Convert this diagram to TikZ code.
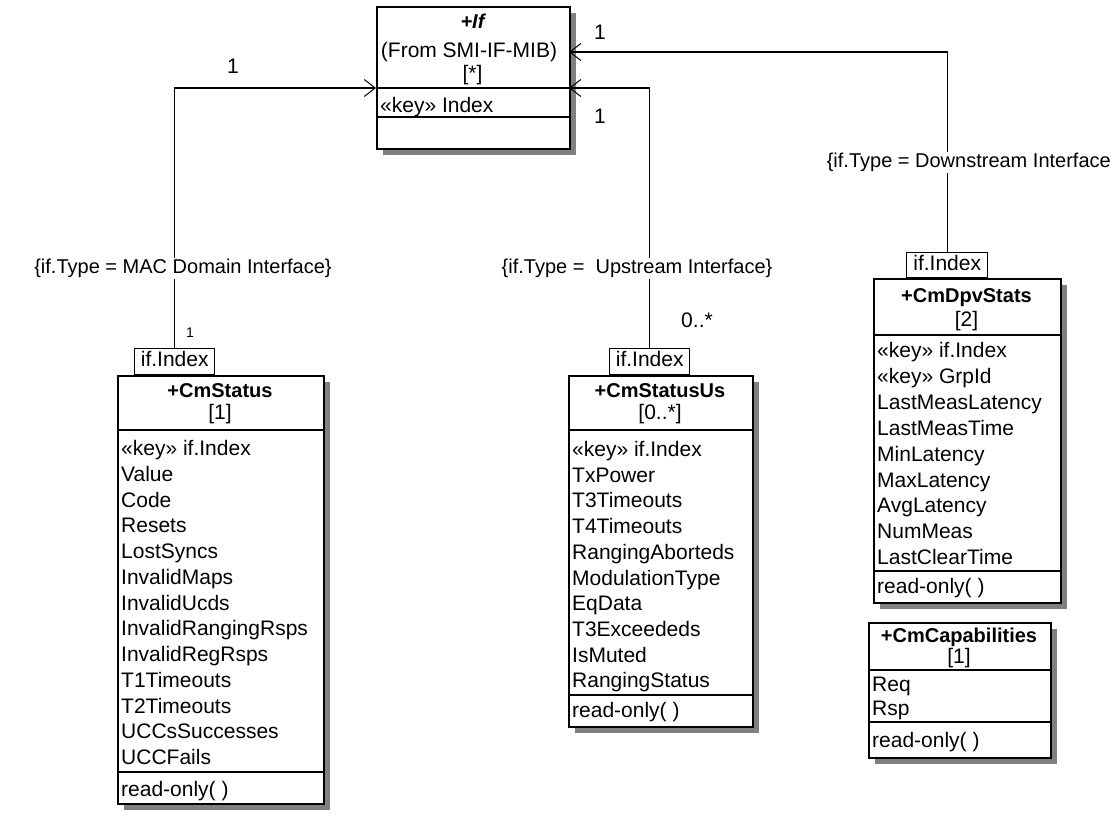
\documentclass[tikz,border=0pt]{standalone}
\usepackage{fontspec}
\setmainfont{Liberation Sans}
\usetikzlibrary{arrows.meta,shadows}

\tikzset{
  px/.style={x=1pt,y=-1pt},
  boxfont/.style={font=\fontsize{21}{24}\selectfont,text height=15pt,text depth=4pt},
  classbox/.style={draw,line width=1.6pt,fill=white,inner sep=0pt,anchor=north west,
    drop shadow={shadow xshift=6pt,shadow yshift=-6pt,fill=black!50,opacity=1}},
  qualbox/.style={draw,line width=1.4pt,fill=white,inner sep=0pt,anchor=south west,
    boxfont,align=center},
  attr/.style={anchor=west,inner sep=0pt,boxfont},
  title/.style={anchor=center,inner sep=0pt,font=\fontsize{20}{24}\selectfont\bfseries,text height=15pt,text depth=4pt},
  mult/.style={anchor=center,inner sep=0pt,boxfont},
  constraint/.style={inner sep=1pt,fill=white,font=\fontsize{20}{24}\selectfont,text height=15pt,text depth=4pt},
  assoc/.style={line width=1.3pt,-{Straight Barb[length=11pt,width=17pt,line width=1pt]}},
  divider/.style={line width=1.3pt},
}

\begin{document}
\begin{tikzpicture}[px]
\fill[white] (0,0) rectangle (1119,816);
\useasboundingbox (0,0) rectangle (1119,816);

% ---------- +If (From SMI-IF-MIB) ----------
\node[classbox,minimum width=193pt,minimum height=142pt] (ifbox) at (376,6) {};
\node[title,font=\fontsize{20}{24}\selectfont\bfseries\itshape] (ifname) at (472.5,23) {+If};
\node[mult] (iffrom) at (469,52) {(From SMI-IF-MIB)};
\node[mult] (ifmult) at (472.5,75) {[*]};
\draw[divider] (ifbox.west |- 0,88) -- (ifbox.east |- 0,88);
\node[attr] (ifkey) at (380,107) {«key» Index};
\draw[divider] (ifbox.west |- 0,117) -- (ifbox.east |- 0,117);
\coordinate (ifL) at (376,88);
\coordinate (ifRmid) at (569,88);
\coordinate (ifRtop) at (569,52);

% ---------- +CmStatus ----------
\node[classbox,minimum width=206pt,minimum height=428pt] (st) at (117,375) {};
\node[qualbox,minimum width=80pt,minimum height=26pt] (stq) at (134,375) {if.Index};
\node[title] (stname) at (220,392) {+CmStatus};
\node[mult] (stmult) at (220,414) {[1]};
\draw[divider] (st.west |- 0,430) -- (st.east |- 0,430);
\foreach \t [count=\i] in {«key» if.Index,Value,Code,Resets,LostSyncs,InvalidMaps,InvalidUcds,
  InvalidRangingRsps,InvalidRegRsps,T1Timeouts,T2Timeouts,UCCsSuccesses,UCCFails}
  \node[attr] (sta\i) at (121,{450+25.75*(\i-1)}) {\t};
\draw[divider] (st.west |- 0,772) -- (st.east |- 0,772);
\node[attr] (stop) at (121,791) {read-only( )};

% ---------- +CmStatusUs ----------
\node[classbox,minimum width=184pt,minimum height=351pt] (us) at (568,375) {};
\node[qualbox,minimum width=80pt,minimum height=26pt] (usq) at (609,375) {if.Index};
\node[title] (usname) at (660,392) {+CmStatusUs};
\node[mult] (usmult) at (660,414) {[0..*]};
\draw[divider] (us.west |- 0,430) -- (us.east |- 0,430);
\foreach \t [count=\i] in {«key» if.Index,TxPower,T3Timeouts,T4Timeouts,RangingAborteds,
  ModulationType,EqData,T3Exceededs,IsMuted,RangingStatus}
  \node[attr] (usa\i) at (572,{451+25.7*(\i-1)}) {\t};
\draw[divider] (us.west |- 0,695) -- (us.east |- 0,695);
\node[attr] (usop) at (572,712) {read-only( )};

% ---------- +CmDpvStats ----------
\node[classbox,minimum width=187pt,minimum height=324pt] (dp) at (873,278) {};
\node[qualbox,minimum width=81pt,minimum height=25pt] (dpq) at (906,278) {if.Index};
\node[title] (dpname) at (966.5,297) {+CmDpvStats};
\node[mult] (dpmult) at (966.5,321) {[2]};
\draw[divider] (dp.west |- 0,335) -- (dp.east |- 0,335);
\foreach \t [count=\i] in {«key» if.Index,«key» GrpId,LastMeasLatency,LastMeasTime,MinLatency,
  MaxLatency,AvgLatency,NumMeas,LastClearTime}
  \node[attr] (dpa\i) at (877,{352+25.9*(\i-1)}) {\t};
\draw[divider] (dp.west |- 0,571) -- (dp.east |- 0,571);
\node[attr] (dpop) at (877,588) {read-only( )};

% ---------- +CmCapabilities ----------
\node[classbox,minimum width=182pt,minimum height=135pt] (cap) at (868,622) {};
\node[title] (capname) at (959,637) {+CmCapabilities};
\node[mult] (capmult) at (959,658) {[1]};
\draw[divider] (cap.west |- 0,670) -- (cap.east |- 0,670);
\node[attr] (capa1) at (872,686) {Req};
\node[attr] (capa2) at (872,710) {Rsp};
\draw[divider] (cap.west |- 0,722) -- (cap.east |- 0,722);
\node[attr] (capop) at (872,742) {read-only( )};

% ---------- associations ----------
\draw[assoc] (stq.north) |- (ifL);
\draw[assoc] (usq.north) |- (ifRmid);
\draw[assoc] (dpq.north) |- (ifRtop);

\node[constraint] (c1) at (183,268) {\{if.Type = MAC Domain Interface\}};
\node[constraint] (c2) at (637,268) {\{if.Type =\ \ Upstream Interface\}};
\node[constraint,anchor=east] (c3) at (1112,162) {\{if.Type = Downstream Interface};

\node[mult] (m1) at (233,68) {1};
\node[mult] (m2) at (600,34) {1};
\node[mult] (m3) at (600,118) {1};
\node[mult,font=\fontsize{14}{16}\selectfont] (m4) at (190,332) {1};
\node[mult] (m5) at (697,322) {0..*};
\end{tikzpicture}
\end{document}
